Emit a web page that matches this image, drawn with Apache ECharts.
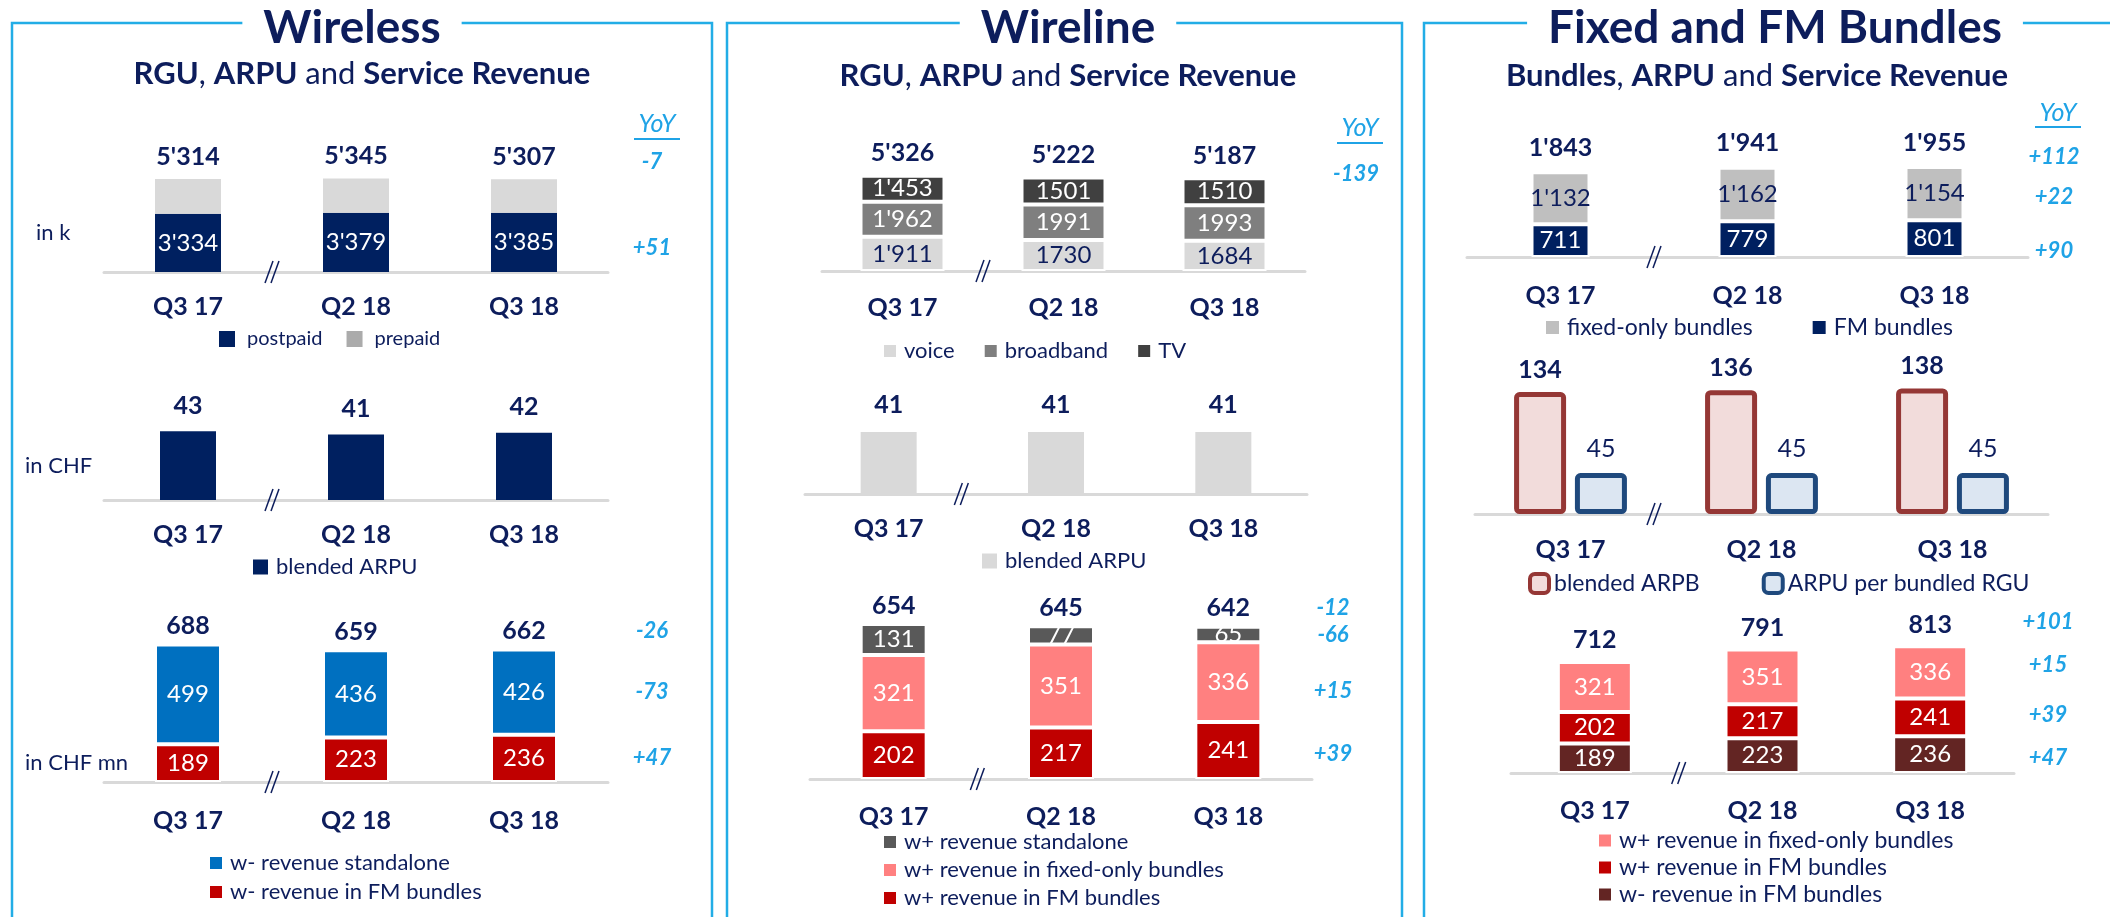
<!DOCTYPE html>
<html>
<head>
<meta charset="utf-8">
<script src="https://cdn.jsdelivr.net/npm/echarts@6.0.0/dist/echarts.min.js"></script>
<style>
html, body { margin: 0; padding: 0; background: #fff; }
#main { width: 2110px; height: 917px; }
</style>
</head>
<body>
<div id="main"></div>
<script>
var chart = echarts.init(document.getElementById('main'));

// categories
const quarters = ['Q3 17', 'Q2 18', 'Q3 18'];

// Wireless - RGU in k
const wlPostpaid = [3334, 3379, 3385];
const wlPrepaid = [1980, 1966, 1922];
const wlRguYoy = ['-7', '+51', null];            // total, then segments bottom -> top
// Wireless - blended ARPU in CHF
const wlArpu = [43, 41, 42];
// Wireless - service revenue in CHF mn
const wlRevFm = [189, 223, 236];
const wlRevStandalone = [499, 436, 426];
const wlRevYoy = ['-26', '+47', '-73'];

// Wireline - RGU in k
const wrVoice = [1911, 1730, 1684];
const wrBroadband = [1962, 1991, 1993];
const wrTv = [1453, 1501, 1510];
const wrGrouped = [true, false, false];           // slide writes 1'911 but 1730
const wrRguYoy = ['-139', null, null, null];
// Wireline - blended ARPU
const wrArpu = [41, 41, 41];
// Wireline - service revenue
const wrRevFm = [202, 217, 241];
const wrRevFixed = [321, 351, 336];
const wrRevStandalone = [131, 77, 65];
const wrRevYoy = ['-12', '+39', '+15', '-66'];

// Fixed and FM bundles
const bdFm = [711, 779, 801];
const bdFixed = [1132, 1162, 1154];
const bdRguYoy = ['+112', '+90', '+22'];
const bdArpb = [134, 136, 138];
const bdArpuRgu = [45, 45, 45];
const bdRevWminusFm = [189, 223, 236];
const bdRevWplusFm = [202, 217, 241];
const bdRevFixed = [321, 351, 336];
const bdRevYoy = ['+101', '+47', '+39', '+15'];

var FONT = 'Lato, "Noto Sans", sans-serif';
var NAVY = '#0d1d5c';
var CYAN = '#22ade6';
var YOYC = '#1fa3e6';

function grouped(v) {
    var s = String(v);
    return s.length > 3 ? s.slice(0, s.length - 3) + "'" + s.slice(-3) : s;
}
function wrFmt(v, i) {
    return wrGrouped[i] ? grouped(v) : String(v);
}
function sumOf(arrays) {
    return arrays[0].map(function (_, i) {
        return arrays.reduce(function (t, a) { return t + a[i]; }, 0);
    });
}

// layout of the nine small charts (yoyShift = pixel nudges of the YoY texts)
var charts = [
    // ---- Wireless ----
    {
        left: 104, width: 504, base: 272, scale: 0.0175, barWidth: 66, seam: 0, margin: 22,
        segs: [
            {name: 'postpaid', data: wlPostpaid, color: '#002060', text: '#fff', fmt: grouped},
            {name: 'prepaid', data: wlPrepaid, color: '#d9d9d9', icon: '#ababab'}
        ],
        total: 10, yoy: wlRguYoy, yoyX: 652, yoyShift: [5, 6, 0],
        legend: {left: 219, top: 329, fontSize: 20, icon: 16, pad: 7, itemGap: 24, order: [0, 1]}
    },
    {
        left: 104, width: 504, base: 500, scale: 1.6, barWidth: 56, seam: 0, margin: 22,
        segs: [{name: 'blended ARPU', data: wlArpu, color: '#002060', top: 13}],
        legend: {left: 253, top: 556, fontSize: 22, icon: 15, pad: 3, order: [0]}
    },
    {
        left: 104, width: 504, base: 782, scale: 0.2, barWidth: 66, seam: 2, margin: 26,
        segs: [
            {name: 'w- revenue in FM bundles', data: wlRevFm, color: '#c00000', text: '#fff'},
            {name: 'w- revenue standalone', data: wlRevStandalone, color: '#0070c0', text: '#fff'}
        ],
        total: 6, yoy: wlRevYoy, yoyX: 652, yoyShift: [0, 0, 0],
        legend: {left: 210, top: 852, fontSize: 22, icon: 12, pad: 3, itemGap: 7, vertical: true, order: [1, 0]}
    },
    // ---- Wireline ----
    {
        left: 822, width: 483, base: 271, scale: 0.0179, barWidth: 84, seam: 2, margin: 24,
        segs: [
            {name: 'voice', data: wrVoice, color: '#d9d9d9', text: NAVY, fmt: wrFmt},
            {name: 'broadband', data: wrBroadband, color: '#7f7f7f', text: '#fff', fmt: wrFmt},
            {name: 'TV', data: wrTv, color: '#404040', text: '#fff', fmt: wrFmt}
        ],
        total: 10, yoy: wrRguYoy, yoyX: 1356, yoyShift: [18, 0, 0, 0],
        legend: {left: 884, top: 340, fontSize: 22, icon: 12, pad: 3, itemGap: 30, order: [0, 1, 2]}
    },
    {
        left: 805, width: 502, base: 494, scale: 1.51, barWidth: 56, seam: 0, margin: 22, breakDx: -11,
        segs: [{name: 'blended ARPU', data: wrArpu, color: '#d9d9d9', top: 15}],
        legend: {left: 982, top: 550, fontSize: 22, icon: 15, pad: 3, order: [0]}
    },
    {
        left: 810, width: 502, base: 779, scale: 0.237, barWidth: 66, seam: 2, margin: 25,
        segs: [
            {name: 'w+ revenue in FM bundles', data: wrRevFm, color: '#c00000', text: '#fff'},
            {name: 'w+ revenue in fixed-only bundles', data: wrRevFixed, color: '#ff8080', text: '#fff'},
            {name: 'w+ revenue standalone', data: wrRevStandalone, color: '#595959', text: '#fff'}
        ],
        total: 6, yoy: wrRevYoy, yoyX: 1333, yoyShift: [0, 3, 9, 0],
        legend: {left: 884, top: 831, fontSize: 22, icon: 12, pad: 3, itemGap: 6, vertical: true, order: [2, 1, 0]}
    },
    // ---- Fixed and FM bundles ----
    {
        left: 1467, width: 561, base: 257, scale: 0.046, barWidth: 58, seam: 2, margin: 26,
        segs: [
            {name: 'FM bundles', data: bdFm, color: '#002060', text: '#fff', fmt: grouped},
            {name: 'fixed-only bundles', data: bdFixed, color: '#bfbfbf', text: NAVY, fmt: grouped}
        ],
        total: 12, yoy: bdRguYoy, yoyX: 2054, yoyShift: [14, 12, 3],
        legend: {left: 1546, top: 316, fontSize: 23, icon: 13, pad: 3, itemGap: 60, order: [1, 0]}
    },
    {
        left: 1475, width: 573, base: 514, scale: 0.91, barWidth: 52, cluster: true, barGap: '17%', margin: 23,
        breakDx: -12,
        segs: [
            {name: 'blended ARPB', data: bdArpb, color: '#f2dcdb', border: '#953735', top: 10},
            {name: 'ARPU per bundled RGU', data: bdArpuRgu, color: '#dce6f2', border: '#1f497d', top: 12, light: true}
        ],
        legend: {left: 1528, top: 572, fontSize: 23, iconW: 19, iconH: 19, pad: 0, itemGap: 62, iconBorder: 4, order: [0, 1]}
    },
    {
        left: 1511, width: 503, base: 773, scale: 0.156, barWidth: 74, seam: 2, margin: 25,
        segs: [
            {name: 'w- revenue in FM bundles', data: bdRevWminusFm, color: '#632523', text: '#fff'},
            {name: 'w+ revenue in FM bundles', data: bdRevWplusFm, color: '#c00000', text: '#fff'},
            {name: 'w+ revenue in fixed-only bundles', data: bdRevFixed, color: '#ff8080', text: '#fff'}
        ],
        total: 9, yoy: bdRevYoy, yoyX: 2048, yoyShift: [-3, 3, -2, -7],
        legend: {left: 1599, top: 829, fontSize: 23, icon: 12, pad: 3, itemGap: 4, vertical: true, order: [2, 1, 0]}
    }
];

var grids = [], xAxes = [], yAxes = [], series = [], legends = [];
var H = 170;

charts.forEach(function (c, g) {
    grids.push({left: c.left, width: c.width, top: c.base - H, height: H, outerBoundsMode: 'none'});
    xAxes.push({
        gridIndex: g, type: 'category', data: quarters,
        axisTick: {show: false},
        axisLine: {lineStyle: {color: '#d9d9d9', width: 3}},
        axisLabel: {margin: c.margin, fontFamily: FONT, fontSize: 25, fontWeight: 'bold', color: NAVY}
    });
    yAxes.push({gridIndex: g, type: 'value', show: false, min: 0, max: H / c.scale, splitLine: {show: false}});

    c.segs.forEach(function (s) {
        var label = {show: false};
        if (s.text) {
            label = {
                show: true, position: 'inside', color: s.text, fontFamily: FONT, fontSize: 24,
                formatter: function (p) { return s.fmt ? s.fmt(p.value, p.dataIndex) : String(p.value); }
            };
        }
        if (s.top != null) {
            label = {
                show: true, position: 'top', distance: s.top, color: NAVY, fontFamily: FONT,
                fontSize: 25, fontWeight: s.light ? 'normal' : 'bold'
            };
        }
        series.push({
            type: 'bar', name: s.name, xAxisIndex: g, yAxisIndex: g,
            stack: c.cluster ? null : 'stack' + g,
            barWidth: c.barWidth,
            barGap: c.cluster ? c.barGap : '-100%',
            data: s.data,
            itemStyle: {
                color: s.color,
                borderColor: s.border || '#fff',
                borderWidth: s.border ? 5 : c.seam,
                borderRadius: s.border ? 3 : 0
            },
            label: label
        });
    });

    if (c.total != null) {
        series.push({
            type: 'bar', name: 'total ' + g, xAxisIndex: g, yAxisIndex: g,
            barWidth: c.barWidth, barGap: '-100%', silent: true,
            data: sumOf(c.segs.map(function (s) { return s.data; })),
            itemStyle: {color: 'rgba(0,0,0,0)'},
            label: {
                show: true, position: 'top', distance: c.total, color: NAVY, fontFamily: FONT,
                fontSize: 25, fontWeight: 'bold',
                formatter: function (p) { return grouped(p.value); }
            }
        });
    }

    var L = c.legend;
    legends.push({
        left: L.left, top: L.top, padding: 0,
        orient: L.vertical ? 'vertical' : 'horizontal',
        itemGap: L.itemGap || 10, icon: L.iconBorder ? 'roundRect' : 'rect',
        itemWidth: L.iconW || L.icon, itemHeight: L.iconH || L.icon,
        selectedMode: false,
        textStyle: {fontFamily: FONT, fontSize: L.fontSize, color: NAVY, padding: [0, 0, 0, L.pad]},
        data: L.order.map(function (i) {
            var s = c.segs[i];
            return {
                name: s.name,
                itemStyle: {
                    color: s.icon || s.color,
                    borderColor: s.border || s.icon || s.color,
                    borderWidth: s.border ? L.iconBorder : 0
                }
            };
        })
    });
});

chart.setOption({
    animation: false,
    grid: grids,
    xAxis: xAxes,
    yAxis: yAxes,
    series: series,
    legend: legends
});

// ---- frames, titles and annotations ----
var panels = [
    {x: 12, w: 700, title: 'Wireless', tx: 352, sx: 362, sy: 74,
     sub: '{b|RGU}{n|, }{b|ARPU}{n| and }{b|Service Revenue}', yoyX: 657, yoyY: 124, ulY: 139},
    {x: 727, w: 675, title: 'Wireline', tx: 1068, sx: 1068, sy: 76,
     sub: '{b|RGU}{n|, }{b|ARPU}{n| and }{b|Service Revenue}', yoyX: 1360, yoyY: 128, ulY: 143},
    {x: 1424, w: 800, title: 'Fixed and FM Bundles', tx: 1775, sx: 1757, sy: 76,
     sub: '{b|Bundles}{n|, }{b|ARPU}{n| and }{b|Service Revenue}', yoyX: 2058, yoyY: 113, ulY: 127}
];
var sideLabels = [
    {text: 'in k', x: 36, y: 233},
    {text: 'in CHF', x: 25, y: 466},
    {text: 'in CHF mn', x: 25, y: 763}
];

var gfx = [];
panels.forEach(function (p) {
    gfx.push({
        type: 'rect', z: 1, silent: true,
        shape: {x: p.x, y: 23, width: p.w, height: 1200},
        style: {fill: null, stroke: CYAN, lineWidth: 2.5}
    });
    gfx.push({
        type: 'text', z: 10, x: p.tx, y: 28,
        style: {
            text: p.title, font: 'bold 46px ' + FONT, fill: NAVY,
            align: 'center', verticalAlign: 'middle', backgroundColor: '#fff', padding: [0, 21]
        }
    });
    gfx.push({
        type: 'text', z: 10, x: p.sx, y: p.sy,
        style: {
            text: p.sub, align: 'center', verticalAlign: 'middle',
            rich: {
                b: {font: 'bold 31px ' + FONT, fill: NAVY},
                n: {font: '31px ' + FONT, fill: NAVY}
            }
        }
    });
    gfx.push({
        type: 'text', z: 10, x: p.yoyX, y: p.yoyY,
        style: {text: 'YoY', font: 'italic 25px ' + FONT, fill: YOYC, align: 'center', verticalAlign: 'middle'}
    });
    gfx.push({
        type: 'line', z: 10,
        shape: {x1: p.yoyX - 23, y1: p.ulY, x2: p.yoyX + 23, y2: p.ulY},
        style: {stroke: YOYC, lineWidth: 2}
    });
});
sideLabels.forEach(function (s) {
    gfx.push({
        type: 'text', z: 10, x: s.x, y: s.y,
        style: {text: s.text, font: '22px ' + FONT, fill: NAVY, align: 'left', verticalAlign: 'middle'}
    });
});

charts.forEach(function (c, g) {
    // axis break mark between the first and second quarter
    var p0 = chart.convertToPixel({gridIndex: g}, [0, 0]);
    var p1 = chart.convertToPixel({gridIndex: g}, [1, 0]);
    var bx = (p0[0] + p1[0]) / 2 + (c.breakDx || 0), by = p0[1];
    [-3, 3].forEach(function (dx) {
        gfx.push({
            type: 'line', z: 20,
            shape: {x1: bx + dx + 4, y1: by - 11, x2: bx + dx - 4, y2: by + 11},
            style: {stroke: NAVY, lineWidth: 1.5}
        });
    });

    if (!c.yoy) return;
    var last = quarters.length - 1;
    var totalVal = sumOf(c.segs.map(function (s) { return s.data; }))[last];
    var yTot = chart.convertToPixel({gridIndex: g}, [last, totalVal])[1] - c.total - 12.5;
    var ys = [yTot];
    var below = 0;
    c.segs.forEach(function (s) {
        var v = s.data[last];
        ys.push(chart.convertToPixel({gridIndex: g}, [last, below + v / 2])[1]);
        below += v;
    });
    c.yoy.forEach(function (t, i) {
        if (!t) return;
        gfx.push({
            type: 'text', z: 10, x: c.yoyX, y: ys[i] + (c.yoyShift[i] || 0),
            style: {text: t, font: 'italic bold 22px ' + FONT, fill: YOYC, align: 'center', verticalAlign: 'middle'}
        });
    });
});

chart.setOption({graphic: gfx});
</script>
</body>
</html>
